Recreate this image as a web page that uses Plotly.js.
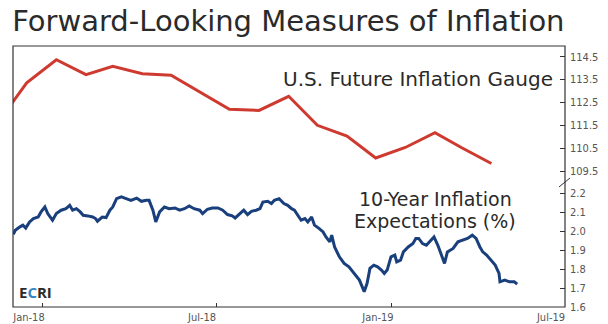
<!DOCTYPE html>
<html>
<head>
<meta charset="utf-8">
<script src="https://cdn.plot.ly/plotly-3.0.1.min.js"></script>
<style>html,body{margin:0;padding:0;background:#fff;}#chart{width:608px;height:324px;}</style>
</head>
<body>
<div id="chart"></div>
<script>
// U.S. Future Inflation Gauge (monthly)
var figDates = ["2017-11-15","2017-12-15","2018-01-15","2018-02-15","2018-03-15","2018-04-15","2018-05-15","2018-06-15","2018-07-15","2018-08-15","2018-09-15","2018-10-15","2018-11-15","2018-12-15","2019-01-15","2019-02-15","2019-03-15","2019-04-15"];
var figValues = [111.62,113.36,114.37,113.72,114.08,113.76,113.69,112.93,112.20,112.15,112.77,111.50,111.03,110.07,110.53,111.18,110.52,109.83];

// 10-Year Inflation Expectations (%)
var inflDates = ["2017-12-01","2017-12-03","2017-12-08","2017-12-11","2017-12-14","2017-12-18","2017-12-22","2017-12-27","2017-12-30",
"2018-01-03","2018-01-06","2018-01-11","2018-01-15","2018-01-20","2018-01-25","2018-01-29","2018-02-01","2018-02-05","2018-02-09",
"2018-02-12","2018-02-17","2018-02-22","2018-02-25","2018-02-27","2018-03-04","2018-03-08","2018-03-12","2018-03-15","2018-03-19",
"2018-03-24","2018-03-29","2018-04-03","2018-04-09","2018-04-14","2018-04-19","2018-04-22","2018-04-26","2018-04-29","2018-05-03",
"2018-05-08","2018-05-13","2018-05-19","2018-05-24","2018-05-29","2018-06-03","2018-06-08","2018-06-14","2018-06-17","2018-06-22",
"2018-06-27","2018-07-03","2018-07-08","2018-07-13","2018-07-18","2018-07-21","2018-07-26","2018-07-30","2018-08-03","2018-08-07",
"2018-08-12","2018-08-16","2018-08-19","2018-08-24","2018-08-28","2018-08-31","2018-09-05","2018-09-10","2018-09-14","2018-09-18",
"2018-09-21","2018-09-25","2018-09-28","2018-10-02","2018-10-05","2018-10-09","2018-10-12","2018-10-17","2018-10-21","2018-10-24",
"2018-10-28","2018-10-30","2018-11-02","2018-11-07","2018-11-12","2018-11-17","2018-11-23","2018-11-28","2018-12-03","2018-12-06",
"2018-12-09","2018-12-13","2018-12-17","2018-12-21","2018-12-24","2018-12-27","2018-12-31","2019-01-04","2019-01-06","2019-01-10",
"2019-01-13","2019-01-18","2019-01-23","2019-01-26","2019-01-29","2019-02-02","2019-02-06","2019-02-09","2019-02-14","2019-02-18",
"2019-02-21","2019-02-25","2019-02-28","2019-03-06","2019-03-11","2019-03-16","2019-03-21","2019-03-26","2019-03-30","2019-04-03",
"2019-04-06","2019-04-10","2019-04-15","2019-04-19","2019-04-23","2019-04-24","2019-04-29","2019-05-04","2019-05-09","2019-05-12"];
var inflValues = [1.983,2.005,2.023,2.032,2.017,2.049,2.067,2.075,2.102,
2.128,2.093,2.058,2.093,2.111,2.119,2.137,2.111,2.119,2.102,
2.084,2.081,2.075,2.067,2.053,2.075,2.072,2.111,2.128,2.172,
2.181,2.172,2.163,2.175,2.158,2.163,2.163,2.111,2.049,2.102,
2.128,2.119,2.123,2.111,2.119,2.133,2.119,2.111,2.093,2.116,
2.123,2.123,2.111,2.088,2.081,2.070,2.093,2.111,2.088,2.105,
2.111,2.119,2.154,2.158,2.146,2.163,2.172,2.146,2.137,2.119,
2.111,2.084,2.058,2.067,2.049,2.075,2.032,2.014,1.996,1.970,
1.944,1.979,1.917,1.865,1.830,1.812,1.777,1.742,1.681,1.725,
1.804,1.821,1.812,1.795,1.777,1.795,1.865,1.874,1.838,1.847,
1.891,1.917,1.935,1.962,1.962,1.935,1.926,1.944,1.970,1.926,
1.883,1.830,1.891,1.909,1.944,1.953,1.962,1.979,1.962,1.917,
1.891,1.874,1.847,1.821,1.777,1.733,1.742,1.733,1.733,1.721];

var xTickVals = ["2018-01-01","2018-07-01","2019-01-01","2019-07-01"];
var xTickText = ["Jan-18","Jul-18","Jan-19","Jul-19"];
var figTickVals = [109.5,110.5,111.5,112.5,113.5,114.5];
var inflTickVals = [1.6,1.7,1.8,1.9,2.0,2.1,2.2];

var tickFont = {family: "'Liberation Sans Narrow','DejaVu Sans Condensed','Roboto',sans-serif", size: 11, color: "#555"};
var labelFont = {family: "'DejaVu Sans',sans-serif", size: 20, color: "#2a2a2a"};
var label2Font = {family: "'DejaVu Sans',sans-serif", size: 19, color: "#2a2a2a"};
var split = 0.479;

var traces = [
  {x: figDates, y: figValues, type: "scatter", mode: "lines", xaxis: "x", yaxis: "y2",
   line: {color: "#cf3a30", width: 3}, hoverinfo: "skip"},
  {x: inflDates, y: inflValues, type: "scatter", mode: "lines", xaxis: "x", yaxis: "y",
   line: {color: "#1a3f7d", width: 3}, hoverinfo: "skip"}
];

var layout = {
  width: 608, height: 324,
  margin: {l: 13, r: 43, t: 46, b: 17},
  paper_bgcolor: "#fff", plot_bgcolor: "#fff",
  showlegend: false,
  title: {text: "Forward-Looking Measures of Inflation", xref: "container", yref: "container",
          x: 0.02, xanchor: "left", y: 0.935, yanchor: "middle",
          font: {family: "'DejaVu Sans',sans-serif", size: 29, color: "#2a2a2a"}},
  xaxis: {type: "date", range: ["2017-11-30 16:00", "2019-07-01"], showgrid: false, zeroline: false,
          showline: false, tickmode: "array", tickvals: xTickVals, ticktext: xTickText,
          ticks: "inside", ticklen: 4, tickcolor: "#333", tickfont: tickFont,
          ticklabelshift: -14, ticklabelstandoff: 2},
  yaxis: {domain: [0, split], range: [1.6, 2.26], side: "right", showgrid: false, zeroline: false,
          showline: false, tickmode: "array", tickvals: inflTickVals, tickformat: ".1f",
          ticks: "inside", ticklen: 5, tickcolor: "#333", tickfont: tickFont, ticklabelstandoff: 4},
  yaxis2: {domain: [split, 1], range: [109.02, 114.97], side: "right", anchor: "x", showgrid: false, zeroline: false,
          showline: false, tickmode: "array", tickvals: figTickVals, tickformat: ".1f",
          ticks: "inside", ticklen: 5, tickcolor: "#333", tickfont: tickFont, ticklabelstandoff: 4},
  shapes: [
    {type: "rect", xref: "paper", yref: "paper", x0: 0, x1: 1, y0: 0, y1: 1,
     line: {color: "#333", width: 1.2}, layer: "above"},
    {type: "line", xref: "paper", yref: "paper", xsizemode: "pixel", ysizemode: "pixel",
     xanchor: 1, yanchor: split, x0: -6, x1: 5, y0: -5, y1: 4,
     line: {color: "#333", width: 1}}
  ],
  annotations: [
    {text: "U.S. Future Inflation Gauge", xref: "paper", yref: "paper", x: 0.733, y: 0.874,
     xanchor: "center", yanchor: "middle", showarrow: false, font: labelFont},
    {text: "10-Year Inflation", xref: "paper", yref: "paper", x: 0.7645, y: 0.4157,
     xanchor: "center", yanchor: "middle", showarrow: false, font: label2Font},
    {text: "Expectations (%)", xref: "paper", yref: "paper", x: 0.7645, y: 0.3314,
     xanchor: "center", yanchor: "middle", showarrow: false, font: label2Font},
    {text: "<b>E<span style='color:#2f86c8'>C</span>RI</b>", xref: "paper", yref: "paper", x: 0.008, y: 0.056,
     xanchor: "left", yanchor: "middle", showarrow: false,
     font: {family: "'Open Sans',sans-serif", size: 15, color: "#2b2b2b"}}
  ]
};

Plotly.newPlot("chart", traces, layout, {staticPlot: true, displayModeBar: false});
</script>
</body>
</html>
